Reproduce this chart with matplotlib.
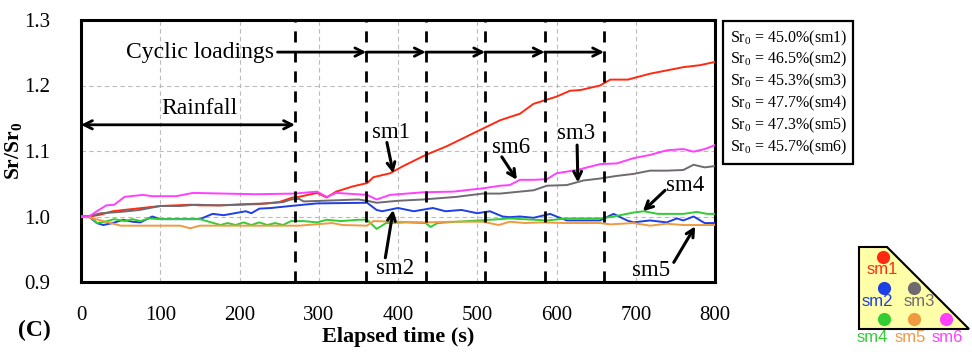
import matplotlib
matplotlib.use("Agg")
import matplotlib.pyplot as plt
from matplotlib.patches import Polygon, Rectangle

plt.rcParams['font.family'] = ['Liberation Serif', 'DejaVu Serif']
plt.rcParams['mathtext.fontset'] = 'custom'
plt.rcParams['mathtext.rm'] = 'Liberation Serif'
plt.rcParams['mathtext.bf'] = 'Liberation Serif:bold'
plt.rcParams['mathtext.it'] = 'Liberation Serif:italic'

# ---------------- data ----------------
t_sm1 = [0, 12, 25, 40, 62, 100, 139, 150, 175, 200, 225, 250, 267, 275, 298, 310, 322, 343, 361, 369,
         390, 405, 435, 461, 478, 500, 529, 554, 571, 600, 617, 630, 655, 668, 690, 718, 739, 760, 781, 800]
v_sm1 = [1.0, 1.0, 1.003, 1.008, 1.011, 1.016, 1.018, 1.017, 1.017, 1.018, 1.019, 1.022, 1.029, 1.03,
         1.036, 1.029, 1.038, 1.046, 1.051, 1.06, 1.066, 1.076, 1.094, 1.107, 1.117, 1.13, 1.147, 1.157,
         1.172, 1.183, 1.192, 1.193, 1.2, 1.209, 1.209, 1.218, 1.223, 1.228, 1.231, 1.236]

t_sm2 = [0, 10, 20, 28, 40, 53, 65, 75, 90, 100, 150, 166, 180, 208, 215, 225, 240, 264, 298, 361, 373,
         380, 400, 420, 444, 460, 480, 500, 516, 532, 541, 554, 571, 592, 600, 613, 655, 672, 689, 697,
         718, 739, 752, 760, 773, 787, 800]
v_sm2 = [1.0, 1.0, 0.99, 0.987, 0.99, 0.995, 0.992, 0.991, 1.0, 0.996, 0.996, 1.004, 1.002, 1.008,
         1.005, 1.012, 1.013, 1.016, 1.02, 1.021, 1.01, 1.008, 1.013, 1.008, 1.013, 1.008, 1.01, 1.005,
         1.008, 1.0, 0.999, 1.0, 0.998, 1.004, 1.0, 0.994, 0.994, 1.004, 0.994, 0.991, 0.994, 0.991,
         0.997, 0.994, 1.0, 0.99, 0.99]

t_sm3 = [0, 12, 25, 50, 74, 100, 125, 145, 175, 210, 235, 255, 265, 275, 281, 328, 350, 361, 373, 400,
         432, 474, 507, 529, 554, 571, 588, 613, 634, 655, 676, 697, 718, 739, 760, 773, 787, 800]
v_sm3 = [1.0, 1.001, 1.005, 1.007, 1.01, 1.016, 1.016, 1.018, 1.017, 1.019, 1.02, 1.022, 1.026, 1.027,
         1.023, 1.025, 1.026, 1.024, 1.021, 1.024, 1.026, 1.03, 1.035, 1.035, 1.038, 1.04, 1.047, 1.048,
         1.055, 1.058, 1.062, 1.065, 1.07, 1.07, 1.071, 1.079, 1.075, 1.077]

t_sm4 = [0, 12, 20, 30, 42, 55, 65, 75, 85, 100, 150, 176, 185, 195, 205, 215, 225, 235, 245, 255, 265,
         281, 298, 310, 328, 350, 361, 373, 385, 410, 435, 441, 450, 474, 516, 541, 588, 613, 655, 672,
         697, 710, 728, 760, 777, 790, 800]
v_sm4 = [1.0, 1.0, 0.99, 0.992, 0.996, 0.993, 0.996, 0.993, 0.997, 0.996, 0.996, 0.987, 0.99, 0.987,
         0.991, 0.987, 0.991, 0.987, 0.99, 0.987, 0.993, 0.993, 0.991, 0.995, 0.993, 0.995, 0.995, 0.981,
         0.99, 0.991, 0.99, 0.984, 0.99, 0.992, 0.995, 0.997, 0.994, 0.997, 0.997, 1.0, 1.006, 1.008,
         1.004, 1.004, 1.007, 1.004, 1.004]

t_sm5 = [0, 12, 25, 50, 100, 125, 138, 150, 200, 250, 275, 317, 330, 361, 369, 400, 435, 470, 507, 527,
         541, 560, 580, 613, 655, 668, 697, 718, 739, 760, 800]
v_sm5 = [1.0, 0.998, 0.994, 0.986, 0.986, 0.986, 0.982, 0.986, 0.986, 0.986, 0.986, 0.99, 0.987, 0.986,
         0.993, 0.992, 0.991, 0.992, 0.992, 0.987, 0.992, 0.99, 0.991, 0.99, 0.99, 0.988, 0.99, 0.986,
         0.989, 0.987, 0.987]

t_sm6 = [0, 10, 20, 32, 42, 55, 78, 90, 100, 120, 141, 180, 220, 270, 298, 310, 322, 361, 373, 390, 432,
         470, 507, 529, 541, 554, 571, 588, 600, 626, 655, 676, 697, 718, 739, 760, 773, 787, 800]
v_sm6 = [1.0, 1.0, 1.008, 1.017, 1.018, 1.03, 1.033, 1.031, 1.031, 1.031, 1.036, 1.035, 1.034, 1.035,
         1.038, 1.03, 1.036, 1.033, 1.026, 1.033, 1.037, 1.038, 1.043, 1.047, 1.048, 1.056, 1.056, 1.057,
         1.066, 1.071, 1.08, 1.081, 1.089, 1.094, 1.101, 1.103, 1.099, 1.103, 1.109]

series_names = ['sm1', 'sm2', 'sm3', 'sm4', 'sm5', 'sm6']
sr0_values = ['45.0', '46.5', '45.3', '47.7', '47.3', '45.7']
colors = ['#FF2A12', '#1F3FE6', '#6F6A6F', '#33CC33', '#F09A40', '#FF40FF']

phase_lines = [270, 360, 435, 510, 585, 660]
x_ticks = [0, 100, 200, 300, 400, 500, 600, 700, 800]
y_ticks = [0.9, 1.0, 1.1, 1.2, 1.3]

# ---------------- figure ----------------
fig = plt.figure(figsize=(9.72, 3.52), dpi=100)
ax = fig.add_axes([81/972, 1-282/352, (715-81)/972, (282-20)/352])

ts = [t_sm1, t_sm2, t_sm3, t_sm4, t_sm5, t_sm6]
vs = [v_sm1, v_sm2, v_sm3, v_sm4, v_sm5, v_sm6]
for t, v, c in zip(ts, vs, colors):
    ax.plot(t, v, color=c, lw=1.4, zorder=3)

for x in phase_lines:
    ax.axvline(x, color='black', lw=2, ls=(0, (4, 3.2)), zorder=4)

ax.set_xlim(0, 800)
ax.set_ylim(0.9, 1.3)
ax.set_xticks(x_ticks)
ax.set_yticks(y_ticks)
ax.set_xticklabels([str(x) for x in x_ticks])
ax.set_yticklabels([f'{y:.1f}' for y in y_ticks])
ax.tick_params(length=0, labelsize=15)
ax.tick_params(axis='x', pad=17)
ax.tick_params(axis='y', pad=22)
ax.grid(True, color='#BBBBBB', ls=(0, (4, 3)), lw=0.8, zorder=0)
for s in ax.spines.values():
    s.set_linewidth(2.2)

ax.set_xlabel('Elapsed time (s)', fontsize=16, fontweight='bold')
ax.xaxis.set_label_coords(0.5, -0.17)
ax.set_ylabel(r'$\mathbf{Sr/Sr_0}$', fontsize=15.5)
ax.yaxis.set_label_coords(-0.09, 0.5)
fig.text(18/972, 1-330/352, '(C)', fontsize=17, fontweight='bold', va='center', ha='left')

# Rainfall arrow
ax.annotate('', xy=(0, 1.14), xytext=(270, 1.14),
            arrowprops=dict(arrowstyle='<->,head_length=0.6,head_width=0.3', lw=2, color='black',
                            shrinkA=0, shrinkB=0), zorder=5)
ax.text(150, 1.165, 'Rainfall', fontsize=17, ha='center', va='center')

# Cyclic loadings arrows
ax.text(150, 1.251, 'Cyclic loadings', fontsize=17, ha='center', va='center')
starts = [248] + phase_lines[1:-1]
ends = phase_lines[1:]
for a, b in zip(starts, ends):
    ax.annotate('', xy=(b, 1.251), xytext=(a, 1.251),
                arrowprops=dict(arrowstyle='->,head_length=0.6,head_width=0.3', lw=2, color='black',
                                shrinkA=0, shrinkB=0), zorder=5)

# series annotations: (label, text pos, arrow tail, arrow head)
ann = [('sm1', (391, 1.129), (386, 1.113), (394, 1.066)),
       ('sm2', (396, 0.921), (384, 0.937), (394, 1.010)),
       ('sm6', (543, 1.106), (531, 1.091), (550, 1.056)),
       ('sm3', (625, 1.127), (626, 1.109), (627, 1.052)),
       ('sm4', (762, 1.048), (737, 1.040), (709, 1.008)),
       ('sm5', (719, 0.918), (748, 0.930), (775, 0.985))]
for lab, tp, tail, head in ann:
    ax.text(tp[0], tp[1], lab, fontsize=16.5, ha='center', va='center', zorder=6)
    ax.annotate('', xy=head, xytext=tail,
                arrowprops=dict(arrowstyle='->,head_length=0.55,head_width=0.28', lw=2.2, color='black',
                                shrinkA=0, shrinkB=0), zorder=6)

# overlay in pixel coords for legend box and schematic
ov = fig.add_axes([0, 0, 1, 1], zorder=10)
ov.set_xlim(0, 972)
ov.set_ylim(352, 0)
ov.axis('off')
ov.patch.set_alpha(0)

ov.add_patch(Rectangle((723, 21), 130, 143, fill=False, lw=1.6, ec='black'))
for i, (nm, sr) in enumerate(zip(series_names, sr0_values)):
    ov.text(730, 38 + i * 21.8, r'Sr$_0$ = ' + f'{sr}%({nm})', fontsize=11.5, ha='left', va='center')

ov.add_patch(Polygon([(859, 247), (887, 247), (969, 329), (859, 329)], closed=True,
                     fc='#FFFFA8', ec='black', lw=1.5))
dot_pos = [(883, 257), (884, 288), (914, 288), (884, 319), (914, 319), (946, 319)]
lab_pos = [(882, 270), (877, 302), (919, 302), (872, 338), (910, 338), (947, 338)]
for nm, c, dp, lp in zip(series_names, colors, dot_pos, lab_pos):
    ov.plot(dp[0], dp[1], 'o', color=c, ms=9.5, mec='none')
    ov.text(lp[0], lp[1], nm, color=c, fontsize=12, ha='center', va='center',
            family=['Liberation Sans', 'DejaVu Sans'])

fig.savefig('out.png', dpi=100)
